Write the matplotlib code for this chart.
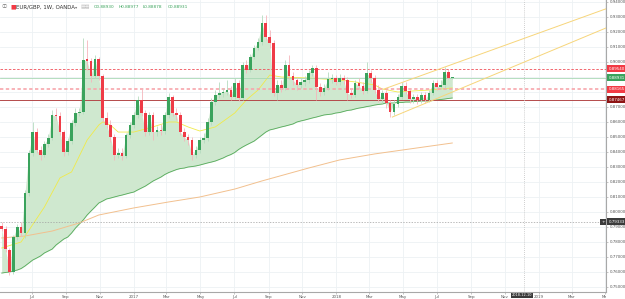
import pandas as pd
import matplotlib
matplotlib.use("Agg")
import matplotlib.pyplot as plt
import matplotlib.dates as mdates
from matplotlib.transforms import Bbox

# weekly EUR/GBP candles
opens = [0.7905, 0.7885, 0.7745, 0.7598, 0.7831, 0.7898, 0.7858, 0.8125, 0.8391, 0.8531,
         0.8411, 0.8378, 0.8451, 0.8491, 0.8645, 0.8638, 0.8531, 0.8398, 0.8471, 0.8591,
         0.8658, 0.8665, 0.9018, 0.9005, 0.8905, 0.9018, 0.8905, 0.8625, 0.8578, 0.8498,
         0.8378, 0.8391, 0.8371, 0.8511, 0.8578, 0.8645, 0.8745, 0.8658, 0.8531, 0.8645,
         0.8531, 0.8545, 0.8538, 0.8645, 0.8765, 0.8658, 0.8645, 0.8531, 0.8498, 0.8478,
         0.8378, 0.8411, 0.8478, 0.8491, 0.8598, 0.8731, 0.8778, 0.8791, 0.8798, 0.8811,
         0.8765, 0.8858, 0.8758, 0.8978, 0.8945, 0.9031, 0.9091, 0.9131, 0.9258, 0.9165,
         0.9125, 0.8791, 0.8845, 0.8825, 0.8978, 0.8905, 0.8878, 0.8845, 0.8865, 0.8878,
         0.8925, 0.8958, 0.8831, 0.8798, 0.8825, 0.8885, 0.8891, 0.8865, 0.8891, 0.8878,
         0.8791, 0.8778, 0.8858, 0.8838, 0.8805, 0.8925, 0.8891, 0.8811, 0.8751, 0.8791,
         0.8725, 0.8665, 0.8718, 0.8765, 0.8838, 0.8805, 0.8751, 0.8765, 0.8745, 0.8778,
         0.8745, 0.8791, 0.8858, 0.8831, 0.8845, 0.8931, 0.88930]
highs = [0.7931, 0.7905, 0.7758, 0.7845, 0.7918, 0.7931, 0.8145, 0.8411, 0.8598, 0.8558,
         0.8438, 0.8471, 0.8518, 0.8678, 0.8691, 0.8665, 0.8545, 0.8491, 0.8611, 0.8691,
         0.8691, 0.9158, 0.9145, 0.9025, 0.9045, 0.9031, 0.8918, 0.8665, 0.8611, 0.8518,
         0.8425, 0.8425, 0.8525, 0.8598, 0.8665, 0.8771, 0.8825, 0.8678, 0.8665, 0.8665,
         0.8571, 0.8585, 0.8665, 0.8791, 0.8778, 0.8691, 0.8665, 0.8558, 0.8518, 0.8498,
         0.8438, 0.8498, 0.8525, 0.8625, 0.8758, 0.8811, 0.8865, 0.8825, 0.8878, 0.8838,
         0.8891, 0.8878, 0.8998, 0.9011, 0.9051, 0.9111, 0.9158, 0.9311, 0.9311, 0.9211,
         0.9145, 0.8878, 0.8878, 0.9011, 0.9045, 0.8931, 0.8898, 0.8891, 0.8905, 0.8945,
         0.8978, 0.8978, 0.8858, 0.8851, 0.8931, 0.8918, 0.8911, 0.8918, 0.8911, 0.8898,
         0.8825, 0.8878, 0.8891, 0.8865, 0.8998, 0.8945, 0.8911, 0.8845, 0.8811, 0.8811,
         0.8745, 0.8745, 0.8785, 0.8865, 0.8865, 0.8825, 0.8785, 0.8785, 0.8798, 0.8798,
         0.8811, 0.8878, 0.8878, 0.8878, 0.8965, 0.8951, 0.88977]
lows = [0.7871, 0.7731, 0.7578, 0.7585, 0.7811, 0.7838, 0.7825, 0.8105, 0.8371, 0.8391,
        0.8345, 0.8365, 0.8431, 0.8478, 0.8611, 0.8511, 0.8371, 0.8378, 0.8451, 0.8571,
        0.8638, 0.8651, 0.8945, 0.8865, 0.8891, 0.8878, 0.8598, 0.8558, 0.8465, 0.8345,
        0.8358, 0.8345, 0.8358, 0.8491, 0.8558, 0.8625, 0.8638, 0.8505, 0.8511, 0.8478,
        0.8505, 0.8511, 0.8518, 0.8625, 0.8638, 0.8611, 0.8511, 0.8471, 0.8445, 0.8345,
        0.8358, 0.8391, 0.8458, 0.8471, 0.8578, 0.8711, 0.8758, 0.8765, 0.8778, 0.8745,
        0.8751, 0.8738, 0.8745, 0.8925, 0.8931, 0.9018, 0.9078, 0.9111, 0.9145, 0.9091,
        0.8771, 0.8745, 0.8798, 0.8811, 0.8885, 0.8845, 0.8811, 0.8825, 0.8838, 0.8858,
        0.8905, 0.8745, 0.8771, 0.8778, 0.8811, 0.8858, 0.8845, 0.8845, 0.8851, 0.8745,
        0.8758, 0.8765, 0.8818, 0.8785, 0.8791, 0.8865, 0.8791, 0.8731, 0.8725, 0.8691,
        0.8631, 0.8645, 0.8698, 0.8751, 0.8785, 0.8725, 0.8725, 0.8718, 0.8725, 0.8725,
        0.8731, 0.8778, 0.8811, 0.8818, 0.8825, 0.8885, 0.88878]
closes = [0.7885, 0.7751, 0.7598, 0.7831, 0.7898, 0.7858, 0.8125, 0.8391, 0.8531, 0.8411,
          0.8378, 0.8451, 0.8491, 0.8645, 0.8638, 0.8531, 0.8398, 0.8471, 0.8591, 0.8658,
          0.8665, 0.9011, 0.9005, 0.8905, 0.9018, 0.8905, 0.8625, 0.8578, 0.8498, 0.8378,
          0.8391, 0.8371, 0.8511, 0.8578, 0.8645, 0.8745, 0.8658, 0.8531, 0.8645, 0.8531,
          0.8545, 0.8538, 0.8645, 0.8765, 0.8658, 0.8645, 0.8531, 0.8498, 0.8478, 0.8378,
          0.8411, 0.8478, 0.8491, 0.8598, 0.8731, 0.8778, 0.8791, 0.8798, 0.8811, 0.8765,
          0.8858, 0.8758, 0.8978, 0.8945, 0.9031, 0.9091, 0.9131, 0.9258, 0.9165, 0.9125,
          0.8791, 0.8845, 0.8825, 0.8978, 0.8905, 0.8878, 0.8845, 0.8865, 0.8878, 0.8925,
          0.8958, 0.8831, 0.8798, 0.8825, 0.8885, 0.8891, 0.8865, 0.8891, 0.8878, 0.8791,
          0.8778, 0.8858, 0.8838, 0.8805, 0.8925, 0.8891, 0.8811, 0.8751, 0.8791, 0.8725,
          0.8665, 0.8718, 0.8765, 0.8838, 0.8805, 0.8751, 0.8765, 0.8745, 0.8778, 0.8745,
          0.8791, 0.8858, 0.8831, 0.8845, 0.8931, 0.8893, 0.88931]

# slow moving average, the lower edge of the green band
slow_ma = [0.7591, 0.7595, 0.7598, 0.7605, 0.7611, 0.7621, 0.7638, 0.7658, 0.7678, 0.7691,
           0.7705, 0.7725, 0.7738, 0.7751, 0.7778, 0.7798, 0.7818, 0.7831, 0.7858, 0.7891,
           0.7918, 0.7945, 0.7978, 0.8005, 0.8031, 0.8058, 0.8071, 0.8085, 0.8091, 0.8098,
           0.8105, 0.8111, 0.8118, 0.8125, 0.8131, 0.8145, 0.8158, 0.8171, 0.8188, 0.8205,
           0.8218, 0.8231, 0.8248, 0.8261, 0.8271, 0.8281, 0.8288, 0.8291, 0.8298, 0.8301,
           0.8305, 0.8311, 0.8318, 0.8325, 0.8331, 0.8338, 0.8348, 0.8358, 0.8371, 0.8381,
           0.8395, 0.8415, 0.8431, 0.8445, 0.8458, 0.8471, 0.8491, 0.8511, 0.8531, 0.8545,
           0.8551, 0.8558, 0.8565, 0.8571, 0.8578, 0.8585, 0.8598, 0.8605, 0.8611, 0.8618,
           0.8625, 0.8631, 0.8638, 0.8645, 0.8648, 0.8651, 0.8658, 0.8661, 0.8668, 0.8675,
           0.8678, 0.8685, 0.8691, 0.8695, 0.8701, 0.8705, 0.8711, 0.8715, 0.8718, 0.8725,
           0.8725, 0.8725, 0.8728, 0.8728, 0.8731, 0.8731, 0.8735, 0.8735, 0.8738, 0.8738,
           0.8738, 0.8741, 0.8745, 0.8748, 0.8751, 0.8755, 0.8758]

# faster averages, sampled at some weeks (index into the candle list)
fast_idx = [0, 5, 11, 15, 18, 22, 25, 26, 28, 30, 34, 38, 43, 45, 48, 51, 55, 60, 63, 66,
            69, 72, 79, 87, 91, 96, 98, 102, 106, 110, 113, 116]
fast_ma = [0.7758, 0.7798, 0.8031, 0.8225, 0.8265, 0.8478, 0.8578, 0.8598, 0.8578, 0.8531,
           0.8531, 0.8558, 0.8598, 0.8598, 0.8565, 0.8538, 0.8565, 0.8658, 0.8745, 0.8811,
           0.8911, 0.8898, 0.8891, 0.8878, 0.8865, 0.8845, 0.8818, 0.8798, 0.8805, 0.8811,
           0.8818, 0.8825]
mid_idx = [0, 6, 13, 20, 25, 34, 43, 51, 60, 67, 79, 87, 96, 105, 116]
mid_ma = [0.7825, 0.7838, 0.7871, 0.7925, 0.7978, 0.8025, 0.8065, 0.8098, 0.8151, 0.8205,
          0.8291, 0.8345, 0.8385, 0.8418, 0.8458]

# drawn objects
chan_up_dates = ["2018-03-28", "2019-05-06"]
chan_up = [0.8818, 0.9358]
chan_lo_dates = ["2018-04-12", "2019-05-06"]
chan_lo = [0.8631, 0.9231]
levels = [0.89540, 0.88931, 0.88165, 0.87467]
level_text = ["0.89540", "0.88931", "0.88165", "0.87467"]
cross_date = "2018-12-05"
cross_price = 0.79333

tick_dates = ["2016-07-01", "2016-09-01", "2016-11-01", "2017-01-01", "2017-03-01",
              "2017-05-01", "2017-07-01", "2017-09-01", "2017-11-01", "2018-01-01",
              "2018-03-01", "2018-05-01", "2018-07-01", "2018-09-01", "2018-11-01",
              "2019-01-01", "2019-03-01", "2019-05-01"]
tick_labels = ["Jul", "Sep", "Nov", "2017", "Mar", "May", "Jul", "Sep", "Nov", "2018",
               "Mar", "May", "Jul", "Sep", "Nov", "2019", "Mar", "May"]
price_ticks = [0.75, 0.76, 0.77, 0.78, 0.79, 0.80, 0.81, 0.82, 0.83, 0.84,
               0.85, 0.86, 0.87, 0.88, 0.89, 0.90, 0.91, 0.92, 0.93, 0.94]

weeks = pd.date_range("2016-05-08", periods=len(closes), freq="7D")
df = pd.DataFrame({"o": opens, "h": highs, "l": lows, "c": closes, "ma": slow_ma}, index=weeks)

up_c, dn_c = "#3aa35c", "#ef3b47"
up_w, dn_w = "#b5dcbf", "#f5b5bb"

fig = plt.figure(figsize=(6.25, 2.99), dpi=100)
ax = fig.add_axes([0, 1 - 291.7 / 299, 606 / 625, 291.7 / 299])
ax.set_xlim(pd.Timestamp("2016-05-05"), pd.Timestamp("2019-05-02"))
ax.set_ylim(0.74667, 0.94113)

ax.set_xticks(pd.to_datetime(tick_dates))
ax.set_xticklabels(tick_labels)
ax.set_yticks(price_ticks)
ax.set_yticklabels(["%.5f" % p for p in price_ticks])
ax.yaxis.tick_right()
ax.grid(True, color="#edf1f4", lw=0.6)
ax.set_axisbelow(True)
for s in ["top", "left"]:
    ax.spines[s].set_visible(False)
for s in ["right", "bottom"]:
    ax.spines[s].set_color("#a8a8a8")
    ax.spines[s].set_linewidth(0.8)
ax.tick_params(axis="both", labelsize=2.9, colors="#9a9a9a", labelcolor="#555555",
               length=1.5, width=0.4, pad=1)
# the last month label is cut by the price scale
cut = Bbox.from_extents(0, 0, 606, 299)
for lab in ax.get_xticklabels():
    lab.set_clip_box(cut)
    lab.set_clip_on(True)

# green band between price and slow average
ax.fill_between(df.index, df["c"], df["ma"], color="#cfe8cf", lw=0)
ax.plot(df.index, df["ma"], color="#55aa5a", lw=0.6)
ax.plot(weeks[mid_idx], mid_ma, color="#f2c08e", lw=0.7)
ax.plot(weeks[fast_idx], fast_ma, color="#f0ea4a", lw=0.6)

# levels
ax.axhline(levels[0], color="#f0505a", lw=0.6, ls=(0, (3, 2)))
ax.axhline(levels[1], color="#a8d8b4", lw=0.6)
ax.axhline(levels[2], color="#f7a5ab", lw=1.2, ls=(0, (2, 1.5)))
ax.axhline(levels[3], color="#b44a4a", lw=0.7)

# candles
w = pd.Timedelta(days=4.8)
for t, r in df.iterrows():
    up = r["c"] >= r["o"]
    ax.vlines(t, r["l"], r["h"], color=up_w if up else dn_w, lw=0.6, zorder=3)
    lo, hi = min(r["o"], r["c"]), max(r["o"], r["c"])
    ax.bar(t, max(hi - lo, 0.0002), bottom=lo, width=w,
           color=up_c if up else dn_c, lw=0, zorder=4)

# channel
ax.plot(pd.to_datetime(chan_up_dates), chan_up, color="#f7d57a", lw=0.7, zorder=5)
ax.plot(pd.to_datetime(chan_lo_dates), chan_lo, color="#f7d57a", lw=0.7, zorder=5)

# crosshair
cx = mdates.date2num(pd.Timestamp(cross_date))
ax.axhline(cross_price, color="#a0a0a0", lw=0.5, ls=(0, (2, 2)))
ax.axvline(cx, color="#c0c0c0", lw=0.6, ls=(0, (1, 1.5)))

# price labels on the scale
ytr = ax.get_yaxis_transform()
box_cols = ["#f23a44", "#3aa35c", "#f23a44", "#8e1414"]
for p, s, c in zip(levels, level_text, box_cols):
    ax.text(1.004, p, s, transform=ytr, fontsize=2.9, color="white", va="center", ha="left",
            bbox=dict(boxstyle="square,pad=0.35", fc=c, ec="none"), clip_on=False, zorder=10)
ax.text(1.004, cross_price, "%.5f" % cross_price, transform=ytr, fontsize=2.9, color="white",
        va="center", ha="left", bbox=dict(boxstyle="square,pad=0.35", fc="#3b3b3b", ec="none"),
        clip_on=False, zorder=10)
ax.text(0.9985, cross_price, "+", transform=ytr, fontsize=3.2, color="white", va="center",
        ha="right", bbox=dict(boxstyle="square,pad=0.25", fc="#3b3b3b", ec="none"),
        clip_on=False, zorder=10)
xtr = ax.get_xaxis_transform()
ax.annotate("2018-12-10", (cx, 0), xycoords=xtr,
            xytext=(-1.5, -1.2), textcoords="offset points", fontsize=2.5, color="white",
            va="top", ha="center", annotation_clip=False, zorder=10,
            bbox=dict(boxstyle="square,pad=0.2", fc="#3b3b3b", ec="none"))

# legend line at the top
fig.text(2 / 625, 1 - 7 / 299, "\u24d8", fontsize=3.8, color="#777777", va="center",
         family=["DejaVu Sans", "Noto Sans CJK JP"])
fig.text(10 / 625, 1 - 7 / 299, "\u25a0", fontsize=4.2, color="#f23a44", va="center")
fig.text(16 / 625, 1 - 7 / 299, "EUR/GBP, 1W, OANDA", fontsize=3.9, color="#333333",
         va="center")
fig.text(75 / 625, 1 - 7 / 299, "\u25be", fontsize=3.2, color="#777777", va="center")
fig.text(81 / 625, 1 - 7 / 299, "\u25a4\u25a4", fontsize=3.6, color="#bbbbbb", va="center")
ohlc = ["O0.88930", "H0.88977", "L0.88878", "C0.88931"]
for x, s in zip([94, 119, 143, 168], ohlc):
    fig.text(x / 625, 1 - 7 / 299, s, fontsize=3.1, color="#3aa35c", va="center")

fig.savefig("out.png", dpi=100)
